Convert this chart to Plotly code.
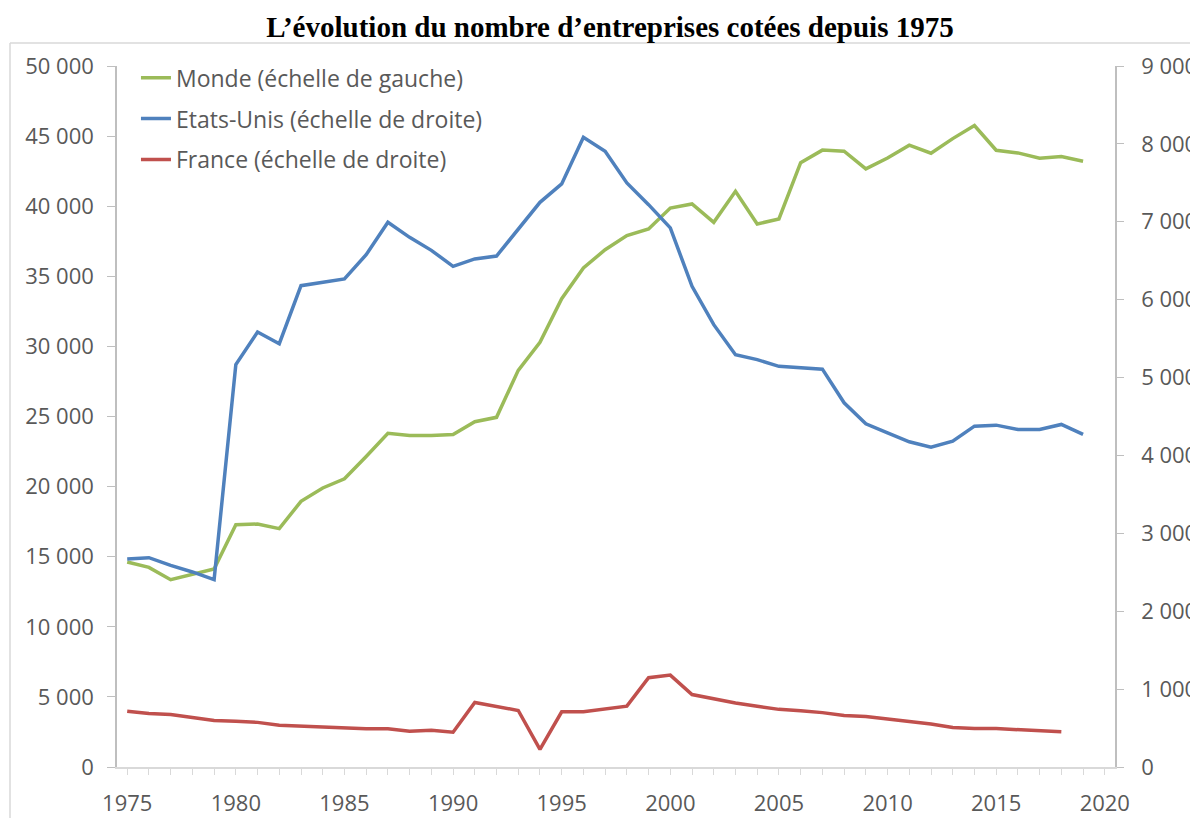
import plotly.graph_objects as go

years = list(range(1975, 2020))
monde = [14620, 14240, 13360, 13720, 14120, 17280, 17330, 17000, 18950, 19900,
         20560, 22150, 23800, 23650, 23650, 23720, 24630, 24940, 28290, 30290,
         33400, 35590, 36900, 37900, 38380, 39870, 40160, 38850, 41060, 38730,
         39090, 43100, 44000, 43920, 42660, 43440, 44350, 43780, 44820, 45750,
         43990, 43800, 43420, 43540, 43210]
etats_unis = [2671, 2687, 2589, 2504, 2405, 5166, 5585, 5435, 6180, 6227,
              6266, 6578, 6993, 6800, 6633, 6428, 6523, 6560, 6899, 7250,
              7486, 8084, 7904, 7498, 7220, 6921, 6171, 5679, 5294, 5230,
              5144, 5127, 5108, 4676, 4406, 4291, 4175, 4107, 4184, 4376,
              4389, 4334, 4334, 4398, 4270]
france_years = list(range(1975, 2019))
france = [717, 688, 675, 637, 598, 586, 573, 535, 522, 514,
          505, 492, 492, 458, 471, 446, 828, 781, 726, 225,
          709, 709, 747, 781, 1146, 1180, 930, 872, 821, 779,
          740, 723, 698, 660, 647, 617, 587, 553, 506, 494,
          494, 481, 468, 451]
x_ticks = list(range(1975, 2021, 5))

title = "L’évolution du nombre d’entreprises cotées depuis 1975"
names = ["Monde (échelle de gauche)", "Etats-Unis (échelle de droite)", "France (échelle de droite)"]
colors = ["#9bbb59", "#4f81bd", "#c0504d"]

W, H = 1198, 818
L, R, T, B = 109, 91, 58, 59
PW, PH = W - L - R, H - T - B

def px(x):
    return (x - L) / PW

def py(y):
    return (H - B - y) / PH

fig = go.Figure()
fig.add_trace(go.Scatter(x=years, y=monde, name=names[0], mode="lines",
                         line=dict(color=colors[0], width=3.5), yaxis="y", legendgroup="a"))
fig.add_trace(go.Scatter(x=years, y=etats_unis, name=names[1], mode="lines",
                         line=dict(color=colors[1], width=3.5), yaxis="y2", legendgroup="b"))
fig.add_trace(go.Scatter(x=france_years, y=france, name=names[2], mode="lines",
                         line=dict(color=colors[2], width=3.5), yaxis="y2", legendgroup="c"))

axis_font = dict(family="Open Sans, Noto Sans, sans-serif", size=22, color="#595959")
fig.update_layout(
    width=W, height=H,
    margin=dict(l=L, r=R, t=T, b=B, autoexpand=False),
    paper_bgcolor="white", plot_bgcolor="white",
    separators=", ",
    title=dict(text="<b>" + title + "</b>", x=602 / W, xanchor="center", y=1 - 19 / H, yanchor="middle",
               font=dict(family="Liberation Serif, Times New Roman, serif", size=29, color="black")),
    xaxis=dict(range=[1974.53, 2020.47], tickmode="array", tickvals=x_ticks, automargin=False,
               showgrid=False, showline=True, linecolor="#d9d9d9", linewidth=1.5,
               ticks="outside", ticklen=6, tickcolor="#d9d9d9", tickfont=axis_font, zeroline=False,
               ticklabelstandoff=10,
               minor=dict(tickmode="linear", tick0=1975, dtick=1, ticks="outside", ticklen=6,
                          tickcolor="#d9d9d9", showgrid=False)),
    yaxis=dict(range=[0, 50000], dtick=5000, tickformat=",d", showgrid=False, automargin=False,
               showline=True, linecolor="#bfbfbf", linewidth=1.5, ticks="outside", ticklen=8,
               tickcolor="#bfbfbf", tickfont=axis_font, zeroline=False, ticklabelstandoff=9),
    yaxis2=dict(range=[0, 9000], dtick=1000, tickformat=",d", overlaying="y", side="right",
                showgrid=False, showline=True, linecolor="#bfbfbf", linewidth=1.5, automargin=False,
                ticks="outside", ticklen=7, tickcolor="#bfbfbf", tickfont=axis_font, zeroline=False,
                ticklabelstandoff=13),
    legend=dict(x=0.019, y=1.014, xanchor="left", yanchor="top", bgcolor="rgba(0,0,0,0)",
                font=dict(family="Open Sans, Noto Sans, sans-serif", size=23, color="#595959"),
                tracegroupgap=8),
    showlegend=True,
    shapes=[
        dict(type="line", xref="paper", yref="paper", x0=px(2), x1=px(W), y0=py(35), y1=py(35),
             line=dict(color="#d9d9d9", width=1.5)),
        dict(type="line", xref="paper", yref="paper", x0=px(2), x1=px(2), y0=py(35), y1=py(H),
             line=dict(color="#d9d9d9", width=1.5)),
    ],
)
fig.write_html("out.html")
